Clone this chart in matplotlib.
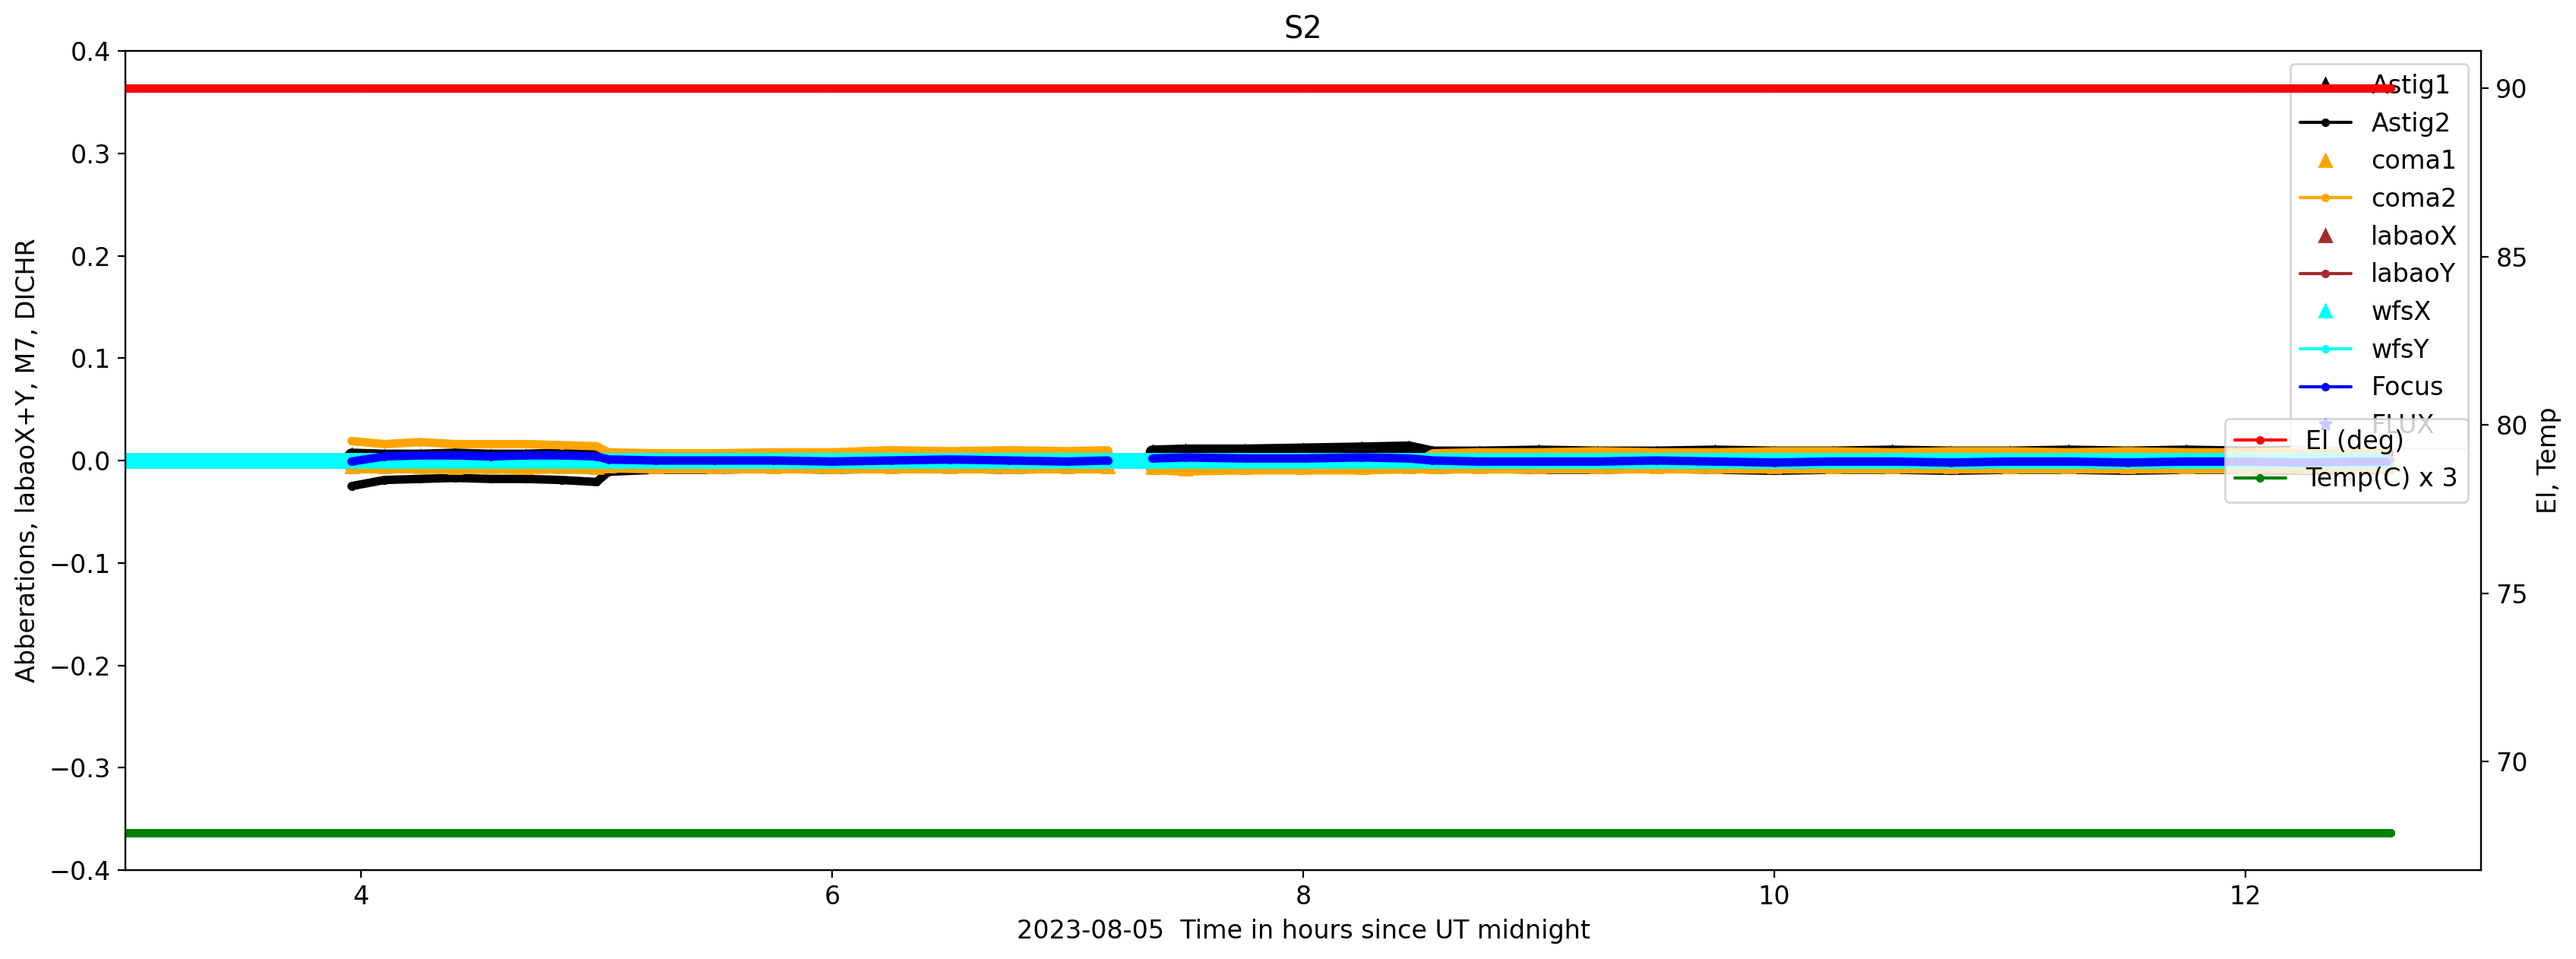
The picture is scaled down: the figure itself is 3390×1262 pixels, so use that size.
import numpy as np
import matplotlib
matplotlib.use('Agg')
import matplotlib.pyplot as plt

plt.rcParams['font.size'] = 12
nan = np.nan

# wavefront sensor samples, hours since UT midnight (no data ~7.2-7.35)
t_ab = [3.96, 4.1, 4.25, 4.4, 4.55, 4.7, 4.85, 5.0,
        5.05, 5.25, 5.5, 5.75, 6.0, 6.25, 6.5, 6.75, 7.0, 7.17,
        7.26,
        7.36, 7.5, 7.75, 8.0, 8.25, 8.45,
        8.55, 8.75, 9.0, 9.25, 9.5, 9.75, 10.0, 10.25, 10.5, 10.75,
        11.0, 11.25, 11.5, 11.75, 12.0, 12.25, 12.45, 12.6]

astig1 = [0.005, 0.004, 0.004, 0.005, 0.004, 0.004, 0.005, 0.004,
          0.003, 0.003, 0.004, 0.003, 0.003, 0.004, 0.003, 0.003, 0.004, 0.003,
          nan,
          0.008, 0.009, 0.009, 0.010, 0.011, 0.012,
          0.007, 0.007, 0.008, 0.007, 0.007, 0.008, 0.007, 0.007, 0.008, 0.007,
          0.007, 0.008, 0.007, 0.008, 0.007, 0.008, 0.007, 0.007]
astig2 = [-0.025, -0.019, -0.018, -0.017, -0.018, -0.018, -0.019, -0.021,
          -0.011, -0.009, -0.009, -0.008, -0.009, -0.008, -0.008, -0.009, -0.008, -0.008,
          nan,
          0.007, 0.007, 0.008, 0.008, 0.009, 0.009,
          -0.009, -0.008, -0.009, -0.009, -0.008, -0.009, -0.010, -0.009, -0.009, -0.010,
          -0.009, -0.009, -0.010, -0.009, -0.009, -0.010, -0.009, -0.009]
coma1 = [-0.006, -0.006, -0.006, -0.007, -0.006, -0.007, -0.006, -0.007,
         -0.005, -0.006, -0.006, -0.006, -0.006, -0.006, -0.006, -0.006, -0.006, -0.006,
         nan,
         -0.007, -0.008, -0.007, -0.007, -0.007, -0.006,
         -0.006, -0.006, -0.006, -0.006, -0.006, -0.006, -0.006, -0.006, -0.006, -0.006,
         -0.006, -0.006, -0.006, -0.006, -0.006, -0.006, -0.006, -0.006]
coma2 = [0.019, 0.016, 0.018, 0.016, 0.016, 0.016, 0.015, 0.014,
         0.008, 0.007, 0.007, 0.008, 0.008, 0.010, 0.009, 0.010, 0.009, 0.010,
         nan,
         -0.006, -0.006, -0.007, -0.006, -0.006, -0.006,
         0.007, 0.008, 0.008, 0.009, 0.008, 0.008, 0.009, 0.009, 0.008, 0.009,
         0.009, 0.008, 0.009, 0.008, 0.008, 0.009, 0.008, 0.008]
labaox = [0.0] * 18 + [nan] + [0.0] * 24
labaoy = [0.0] * 18 + [nan] + [0.0] * 24
focus = [-0.001, 0.004, 0.005, 0.005, 0.004, 0.005, 0.005, 0.004,
         0.001, 0.000, 0.000, 0.000, -0.001, 0.000, 0.001, 0.000, -0.001, 0.000,
         nan,
         0.002, 0.003, 0.002, 0.002, 0.003, 0.002,
         0.000, -0.001, -0.001, -0.001, 0.000, -0.001, -0.002, -0.001, -0.001, -0.002,
         -0.001, -0.001, -0.002, -0.001, -0.001, -0.002, -0.001, -0.001]

t_wfs = [2.9, 4.0, 6.0, 8.0, 10.0, 12.0, 12.6]
wfsx = [0.0, 0.0, 0.0, 0.0, 0.0, 0.0, 0.0]
wfsy = [0.0, 0.0, 0.0, 0.0, 0.0, 0.0, 0.0]

t_flux = []
flux = []

# telescope elevation and temperature
t_el = [2.9, 4.0, 6.0, 8.0, 10.0, 12.0, 12.615]
el = [90.0, 90.0, 90.0, 90.0, 90.0, 90.0, 90.0]
temp_c = [22.63, 22.63, 22.63, 22.63, 22.63, 22.63, 22.63]
temp3 = [3 * t for t in temp_c]

fig, ax = plt.subplots(figsize=(16.95, 6.31))
fig.subplots_adjust(left=0.0487, right=0.9631, bottom=0.0927, top=0.9469)

kw = dict(solid_capstyle='round', solid_joinstyle='round')
ax.plot(t_ab, astig1, '^-', color='black', lw=6.5, label='Astig1', **kw)
ax.plot(t_ab, astig2, '.-', color='black', lw=4, label='Astig2', **kw)
ax.plot(t_ab, coma1, '^-', color='orange', lw=6.5, label='coma1', **kw)
ax.plot(t_ab, coma2, '.-', color='orange', lw=4, label='coma2', **kw)
ax.plot(t_ab, labaox, '^-', color='brown', lw=6.5, label='labaoX', **kw)
ax.plot(t_ab, labaoy, '.-', color='brown', lw=4, label='labaoY', **kw)
ax.plot(t_wfs, wfsx, '^-', color='cyan', lw=7.5, label='wfsX', solid_capstyle='butt')
ax.plot(t_wfs, wfsy, '.-', color='cyan', lw=4, label='wfsY', **kw)
ax.plot(t_ab, focus, '.-', color='blue', lw=4, label='Focus', **kw)
ax.plot(t_flux, flux, '*', color='blue', label='FLUX')

ax.set_xlim(3, 13)
ax.set_ylim(-0.4, 0.4)
ax.set_xlabel('2023-08-05  Time in hours since UT midnight')
ax.set_ylabel('Abberations, labaoX+Y, M7, DICHR')
ax.set_title('S2')

leg1 = ax.legend(loc='upper right')
for h in leg1.get_lines():
    h.set_linewidth(1.5)
    if h.get_marker() in ('^', '*'):
        h.set_linestyle('None')

ax2 = ax.twinx()
ax2.plot(t_el, el, '.-', color='red', lw=4, label='El (deg)', **kw)
ax2.plot(t_el, temp3, '.-', color='green', lw=4, label='Temp(C) x 3', **kw)
ax2.set_ylabel('El, Temp')
ax2.set_xlim(3, 13)

leg2 = ax2.legend(loc='center right')
for h in leg2.get_lines():
    h.set_linewidth(1.5)

fig.savefig('out.png', dpi=200)
